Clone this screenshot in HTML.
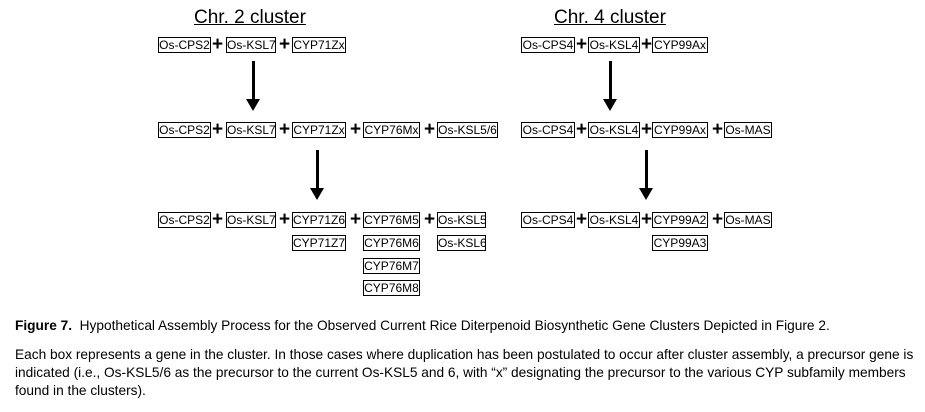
<!DOCTYPE html>
<html><head><meta charset="utf-8"><style>
body{margin:0;width:925px;height:412px;background:#fff;position:relative;overflow:hidden;font-family:"Liberation Sans",Arial,sans-serif;color:#000}
.b{position:absolute;height:14px;border:1px solid #000;font-size:12px;line-height:14px;text-align:center;box-sizing:content-box;white-space:nowrap;overflow:hidden}
.p{position:absolute;font-size:19px;font-weight:bold;line-height:14px}
.t{position:absolute;font-size:19px;text-decoration:underline;white-space:nowrap}
.cap{position:absolute;left:15px;font-size:13.7px;white-space:nowrap;line-height:18px}
.ar{position:absolute;width:3px;background:#000}
.ah{position:absolute;width:0;height:0;border-left:7px solid transparent;border-right:7px solid transparent;border-top:12px solid #000}
</style></head><body>
<div class="t" style="left:194px;top:7px">Chr. 2 cluster</div>
<div class="t" style="left:554px;top:7px">Chr. 4 cluster</div>

<div class="b" style="left:158px;top:37px;width:51px">Os-CPS2</div>
<div class="p" style="left:212px;top:38px">+</div>
<div class="b" style="left:226px;top:37px;width:48px">Os-KSL7</div>
<div class="p" style="left:279px;top:38px">+</div>
<div class="b" style="left:292px;top:37px;width:52px">CYP71Zx</div>

<div class="b" style="left:158px;top:122px;width:51px">Os-CPS2</div>
<div class="p" style="left:212px;top:123px">+</div>
<div class="b" style="left:226px;top:122px;width:48px">Os-KSL7</div>
<div class="p" style="left:279px;top:123px">+</div>
<div class="b" style="left:292px;top:122px;width:52px">CYP71Zx</div>
<div class="p" style="left:350px;top:123px">+</div>
<div class="b" style="left:363px;top:122px;width:55px">CYP76Mx</div>
<div class="p" style="left:424px;top:123px">+</div>
<div class="b" style="left:437px;top:122px;width:59px">Os-KSL5/6</div>

<div class="b" style="left:158px;top:212px;width:51px">Os-CPS2</div>
<div class="p" style="left:212px;top:213px">+</div>
<div class="b" style="left:226px;top:212px;width:48px">Os-KSL7</div>
<div class="p" style="left:279px;top:213px">+</div>
<div class="b" style="left:292px;top:212px;width:52px">CYP71Z6</div>
<div class="p" style="left:350px;top:213px">+</div>
<div class="b" style="left:363px;top:212px;width:55px">CYP76M5</div>
<div class="p" style="left:424px;top:213px">+</div>
<div class="b" style="left:437px;top:212px;width:47px">Os-KSL5</div>
<div class="b" style="left:292px;top:235px;width:52px">CYP71Z7</div>
<div class="b" style="left:363px;top:235px;width:55px">CYP76M6</div>
<div class="b" style="left:437px;top:235px;width:47px">Os-KSL6</div>
<div class="b" style="left:363px;top:258px;width:55px">CYP76M7</div>
<div class="b" style="left:363px;top:280px;width:55px">CYP76M8</div>

<div class="b" style="left:521px;top:37px;width:52px">Os-CPS4</div>
<div class="p" style="left:576px;top:38px">+</div>
<div class="b" style="left:588px;top:37px;width:50px">Os-KSL4</div>
<div class="p" style="left:641px;top:38px">+</div>
<div class="b" style="left:652px;top:37px;width:54px">CYP99Ax</div>

<div class="b" style="left:521px;top:122px;width:52px">Os-CPS4</div>
<div class="p" style="left:576px;top:123px">+</div>
<div class="b" style="left:588px;top:122px;width:50px">Os-KSL4</div>
<div class="p" style="left:641px;top:123px">+</div>
<div class="b" style="left:652px;top:122px;width:54px">CYP99Ax</div>
<div class="p" style="left:712px;top:123px">+</div>
<div class="b" style="left:724px;top:122px;width:46px">Os-MAS</div>

<div class="b" style="left:521px;top:212px;width:52px">Os-CPS4</div>
<div class="p" style="left:576px;top:213px">+</div>
<div class="b" style="left:588px;top:212px;width:50px">Os-KSL4</div>
<div class="p" style="left:641px;top:213px">+</div>
<div class="b" style="left:652px;top:212px;width:54px">CYP99A2</div>
<div class="p" style="left:712px;top:213px">+</div>
<div class="b" style="left:724px;top:212px;width:46px">Os-MAS</div>
<div class="b" style="left:652px;top:235px;width:54px">CYP99A3</div>

<div class="ar" style="left:252px;top:61px;height:40px"></div><div class="ah" style="left:246px;top:99px"></div>
<div class="ar" style="left:316px;top:150px;height:40px"></div><div class="ah" style="left:310px;top:188px"></div>
<div class="ar" style="left:609px;top:61px;height:40px"></div><div class="ah" style="left:603px;top:99px"></div>
<div class="ar" style="left:645px;top:150px;height:40px"></div><div class="ah" style="left:639px;top:188px"></div>

<div class="cap" style="top:317px"><b>Figure 7.</b>&nbsp; Hypothetical Assembly Process for the Observed Current Rice Diterpenoid Biosynthetic Gene Clusters Depicted in Figure 2.</div>
<div class="cap" style="top:346px">Each box represents a gene in the cluster. In those cases where duplication has been postulated to occur after cluster assembly, a precursor gene is</div>
<div class="cap" style="top:364px">indicated (i.e., Os-KSL5/6 as the precursor to the current Os-KSL5 and 6, with “x” designating the precursor to the various CYP subfamily members</div>
<div class="cap" style="top:382px">found in the clusters).</div>
</body></html>
